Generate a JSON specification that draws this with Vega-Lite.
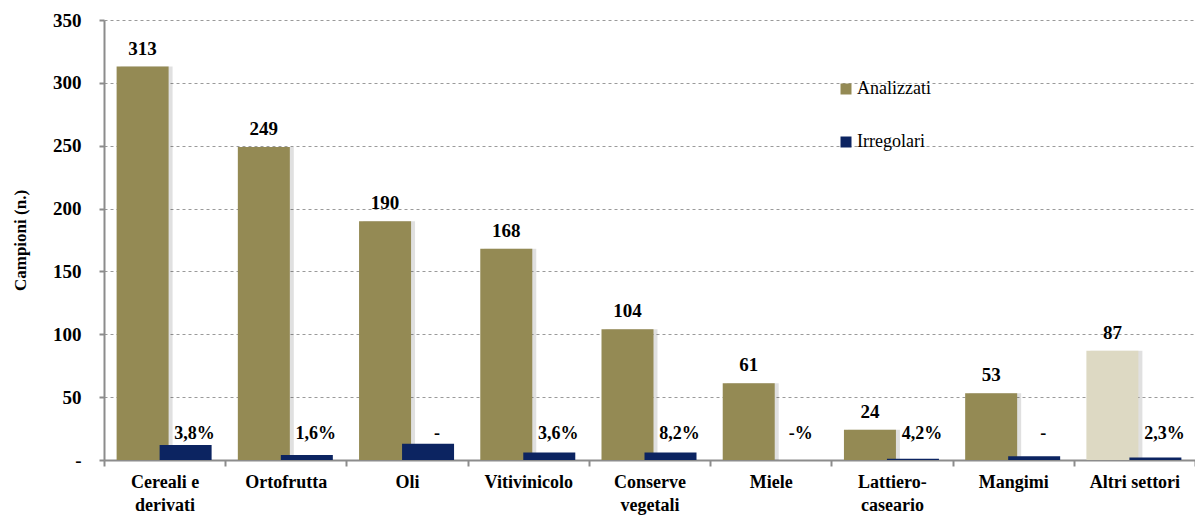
{
  "$schema": "https://vega.github.io/schema/vega-lite/v6.json",
  "width": 1091,
  "height": 440,
  "autosize": {"type": "none"},
  "padding": {"left": 104, "top": 20, "right": 0, "bottom": 58},
  "background": "white",
  "config": {
    "view": {"stroke": null},
    "font": "Liberation Serif",
    "axis": {"labelFont": "Liberation Serif", "titleFont": "Liberation Serif"}
  },
  "data": {
    "values": [
      {"settore": "Cereali e derivati", "analizzati": 313, "irregolari": 12, "perc": "3,8%"},
      {"settore": "Ortofrutta", "analizzati": 249, "irregolari": 4, "perc": "1,6%"},
      {"settore": "Oli", "analizzati": 190, "irregolari": 13, "perc": "-"},
      {"settore": "Vitivinicolo", "analizzati": 168, "irregolari": 6, "perc": "3,6%"},
      {"settore": "Conserve vegetali", "analizzati": 104, "irregolari": 6, "perc": "8,2%"},
      {"settore": "Miele", "analizzati": 61, "irregolari": 0, "perc": "-%"},
      {"settore": "Lattiero-caseario", "analizzati": 24, "irregolari": 1, "perc": "4,2%"},
      {"settore": "Mangimi", "analizzati": 53, "irregolari": 3, "perc": "-"},
      {"settore": "Altri settori", "analizzati": 87, "irregolari": 2, "perc": "2,3%"}
    ]
  },
  "encoding": {
    "x": {
      "field": "settore",
      "type": "nominal",
      "sort": null,
      "scale": {"paddingInner": 0, "paddingOuter": 0},
      "axis": {
        "title": null,
        "labelAngle": 0,
        "labelFontSize": 18,
        "labelFontWeight": "bold",
        "labelColor": "#000",
        "labelPadding": 7,
        "labelLineHeight": 23,
        "labelBaseline": "top",
        "labelExpr": "datum.value == 'Cereali e derivati' ? ['Cereali e', 'derivati'] : datum.value == 'Conserve vegetali' ? ['Conserve', 'vegetali'] : datum.value == 'Lattiero-caseario' ? ['Lattiero-', 'caseario'] : datum.value",
        "tickBand": "extent",
        "tickSize": 6,
        "tickColor": "#8c8c8c",
        "tickWidth": 2,
        "domainColor": "#8c8c8c",
        "domainWidth": 2,
        "grid": false
      }
    }
  },
  "layer": [
    {
      "mark": {"type": "bar", "width": 52, "xOffset": -18, "color": "#000", "opacity": 0.12},
      "encoding": {
        "y": {"field": "analizzati", "type": "quantitative"}
      }
    },
    {
      "mark": {"type": "bar", "width": 52, "xOffset": -22},
      "encoding": {
        "y": {
          "field": "analizzati",
          "type": "quantitative",
          "scale": {"domain": [0, 350]},
          "axis": {
            "title": "Campioni (n.)",
            "titleFontSize": 17,
            "titleFontWeight": "bold",
            "titleColor": "#000",
            "titleX": -84,
            "titleY": 220,
            "titleAngle": -90,
            "titleAlign": "center",
            "titleBaseline": "middle",
            "values": [0, 50, 100, 150, 200, 250, 300, 350],
            "labelExpr": "datum.value == 0 ? '-' : datum.label",
            "labelFontSize": 19,
            "labelFontWeight": "bold",
            "labelColor": "#000",
            "labelPadding": 18,
            "tickSize": 5,
            "tickColor": "#8c8c8c",
            "tickWidth": 2,
            "domainColor": "#8c8c8c",
            "domainWidth": 2,
            "grid": true,
            "gridColor": "#9a9a9a",
            "gridDash": [3, 3],
            "gridWidth": 1
          }
        },
        "color": {
          "condition": {"test": "datum.settore === 'Altri settori'", "value": "#DDD9C3"},
          "datum": "Analizzati",
          "type": "nominal",
          "scale": {"domain": ["Analizzati", "Irregolari"], "range": ["#948A54", "#0C2461"]},
          "legend": {
            "title": null,
            "orient": "none",
            "legendX": 733,
            "legendY": 60,
            "symbolType": "square",
            "symbolSize": 121,
            "symbolStrokeWidth": 0,
            "labelFont": "Liberation Serif",
            "labelFontSize": 18,
            "labelColor": "#000",
            "labelOffset": 2,
            "rowPadding": 35
          }
        }
      }
    },
    {
      "mark": {"type": "bar", "width": 52, "xOffset": 21},
      "encoding": {
        "y": {"field": "irregolari", "type": "quantitative"},
        "color": {"datum": "Irregolari", "type": "nominal"}
      }
    },
    {
      "mark": {"type": "text", "xOffset": -22, "dy": -12, "baseline": "alphabetic", "fontSize": 19, "fontWeight": "bold", "color": "#000"},
      "encoding": {
        "y": {"field": "analizzati", "type": "quantitative"},
        "text": {"field": "analizzati", "type": "quantitative"}
      }
    },
    {
      "mark": {"type": "text", "xOffset": 30, "baseline": "alphabetic", "fontSize": 18, "fontWeight": "bold", "color": "#000"},
      "encoding": {
        "y": {"datum": 16.5, "type": "quantitative"},
        "text": {"field": "perc", "type": "nominal"}
      }
    }
  ]
}
